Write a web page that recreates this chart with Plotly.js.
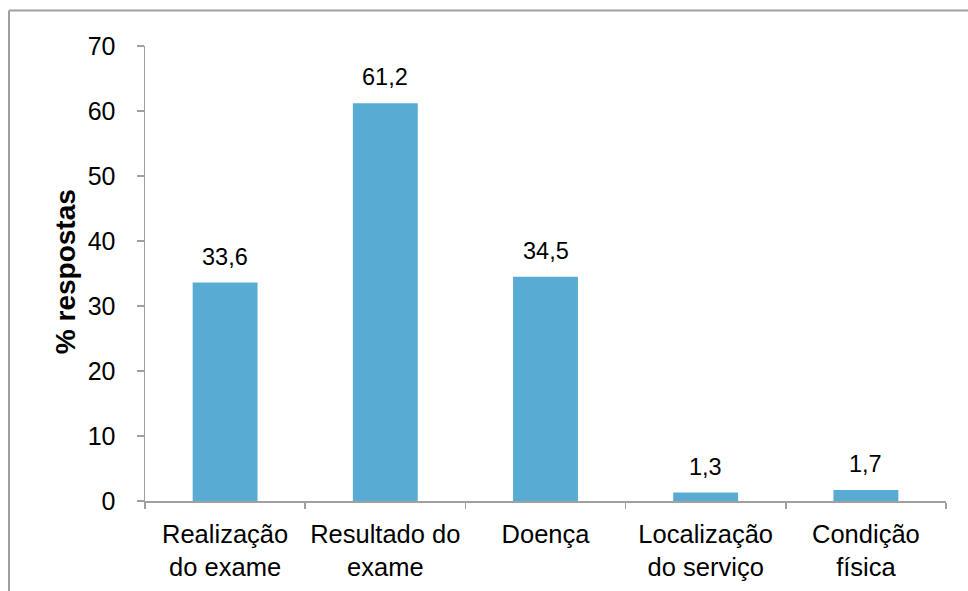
<!DOCTYPE html>
<html><head><meta charset="utf-8">
<script src="https://cdn.plot.ly/plotly-3.0.1.min.js"></script>
<style>html,body{margin:0;padding:0;background:#fff}#c{width:968px;height:591px}</style>
</head><body><div id="c"></div>
<script>
const categories = ["Realização<br>do exame", "Resultado do<br>exame", "Doença", "Localização<br>do serviço", "Condição<br>física"];
const values = [33.6, 61.2, 34.5, 1.3, 1.7];
const valueLabels = ["33,6", "61,2", "34,5", "1,3", "1,7"];
const yTicks = [0, 10, 20, 30, 40, 50, 60, 70];
const yTitle = "% respostas";

const FONT = "Liberation Sans, Arial, sans-serif";
const AXC = "#a0a0a0";

const trace = {
  type: "bar", x: categories, y: values,
  marker: {color: "#58acd4"}, hoverinfo: "none"
};

const annotations = categories.map((c, i) => ({
  x: c, y: values[i], xref: "x", yref: "y", text: valueLabels[i],
  showarrow: false, yanchor: "bottom", yshift: 11,
  font: {family: FONT, size: 23.5, color: "#000"}
}));
annotations.push({
  x: -0.1, y: 0.505, xref: "paper", yref: "paper", text: "<b>" + yTitle + "</b>",
  textangle: -90, showarrow: false, xanchor: "center", yanchor: "middle",
  font: {family: FONT, size: 28, color: "#000"}
});

const pw = 801, ph = 455;
const bx = (9 - 145) / pw, by = 1 + (46 - 10.5) / ph;
const layout = {
  width: 968, height: 591,
  margin: {l: 145, r: 22, t: 46, b: 90},
  paper_bgcolor: "#fff", plot_bgcolor: "#fff",
  showlegend: false, bargap: 0.595,
  font: {family: FONT, color: "#000"},
  xaxis: {
    showline: true, linecolor: AXC, linewidth: 1.5, tickangle: 0, automargin: false,
    ticks: "outside", tickson: "boundaries", ticklen: 6, tickwidth: 1.5, tickcolor: AXC,
    tickfont: {family: FONT, size: 25.5, color: "#000"}, showgrid: false, zeroline: false,
    ticklabelstandoff: 10
  },
  yaxis: {
    range: [0, 70], tickvals: yTicks, ticktext: yTicks.map(String), automargin: false,
    showline: true, linecolor: AXC, linewidth: 1.5,
    ticks: "outside", ticklen: 7, tickwidth: 1.5, tickcolor: AXC,
    tickfont: {family: FONT, size: 25, color: "#000"}, showgrid: false, zeroline: false,
    ticklabelstandoff: 16
  },
  annotations: annotations,
  shapes: [
    {type: "line", xref: "paper", yref: "paper", x0: bx, x1: bx, y0: -0.3, y1: by, line: {color: AXC, width: 2}},
    {type: "line", xref: "paper", yref: "paper", x0: bx, x1: 1.1, y0: by, y1: by, line: {color: AXC, width: 2}}
  ]
};
Plotly.newPlot("c", [trace], layout, {displayModeBar: false, staticPlot: true});
</script></body></html>
